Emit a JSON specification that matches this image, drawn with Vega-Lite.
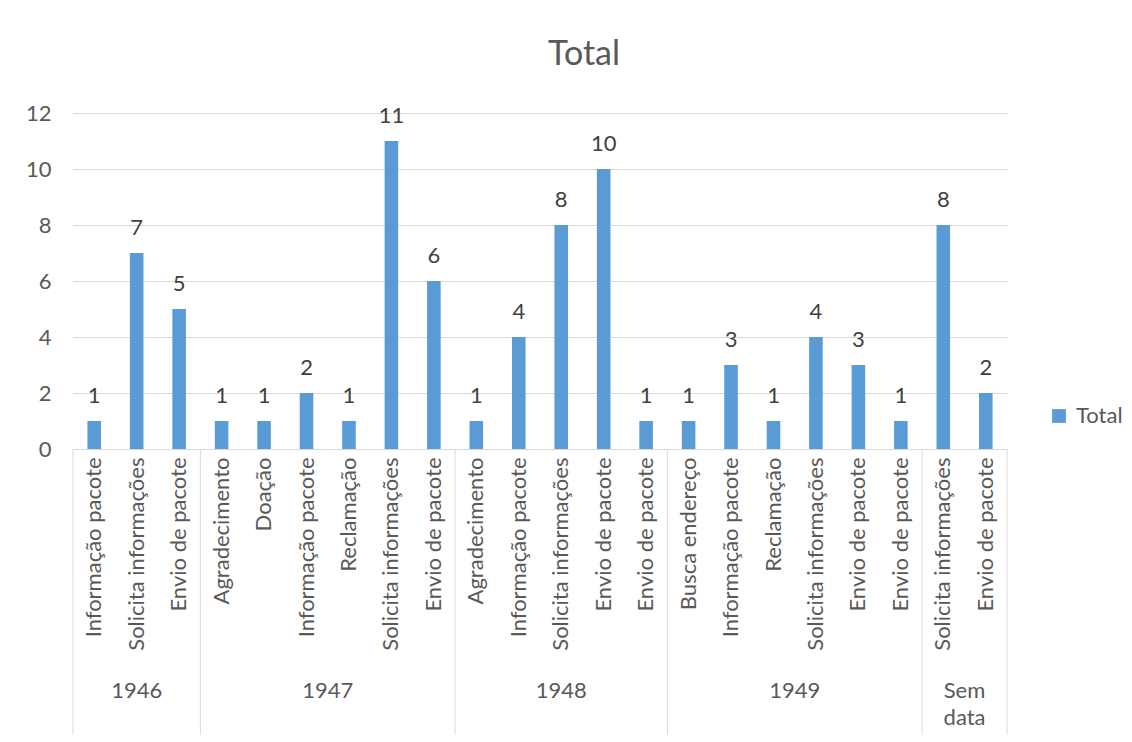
{
  "$schema": "https://vega.github.io/schema/vega-lite/v6.json",
  "autosize": {"type": "none"},
  "padding": {"left": 73, "top": 113, "right": 125, "bottom": 293},
  "width": 934,
  "height": 336,
  "background": "white",
  "config": {
    "view": {"stroke": null},
    "font": "Lato",
    "text": {"font": "Lato"}
  },
  "title": {
    "text": "Total",
    "fontSize": 34,
    "fontWeight": "normal",
    "color": "#595959",
    "font": "Lato",
    "anchor": "middle",
    "frame": "group",
    "dx": 44,
    "offset": 30
  },
  "datasets": {
    "rows": [
      {"k": "01 Informação pacote", "year": "1946", "n": 1},
      {"k": "02 Solicita informações", "year": "1946", "n": 7},
      {"k": "03 Envio de pacote", "year": "1946", "n": 5},
      {"k": "04 Agradecimento", "year": "1947", "n": 1},
      {"k": "05 Doação", "year": "1947", "n": 1},
      {"k": "06 Informação pacote", "year": "1947", "n": 2},
      {"k": "07 Reclamação", "year": "1947", "n": 1},
      {"k": "08 Solicita informações", "year": "1947", "n": 11},
      {"k": "09 Envio de pacote", "year": "1947", "n": 6},
      {"k": "10 Agradecimento", "year": "1948", "n": 1},
      {"k": "11 Informação pacote", "year": "1948", "n": 4},
      {"k": "12 Solicita informações", "year": "1948", "n": 8},
      {"k": "13 Envio de pacote", "year": "1948", "n": 10},
      {"k": "14 Envio de pacote", "year": "1948", "n": 1},
      {"k": "15 Busca endereço", "year": "1949", "n": 1},
      {"k": "16 Informação pacote", "year": "1949", "n": 3},
      {"k": "17 Reclamação", "year": "1949", "n": 1},
      {"k": "18 Solicita informações", "year": "1949", "n": 4},
      {"k": "19 Envio de pacote", "year": "1949", "n": 3},
      {"k": "20 Envio de pacote", "year": "1949", "n": 1},
      {"k": "21 Solicita informações", "year": "Sem data", "n": 8},
      {"k": "22 Envio de pacote", "year": "Sem data", "n": 2}
    ],
    "groupsCenter": [
      {"k": "02 Solicita informações", "label": "1946"},
      {"k": "12 Solicita informações", "label": "1948"}
    ],
    "groupsEdge": [
      {"k": "07 Reclamação", "label": "1947"},
      {"k": "18 Solicita informações", "label": "1949"},
      {"k": "22 Envio de pacote", "label": "Sem\ndata"}
    ],
    "boundsStart": [
      {"k": "01 Informação pacote"},
      {"k": "04 Agradecimento"},
      {"k": "10 Agradecimento"},
      {"k": "15 Busca endereço"},
      {"k": "21 Solicita informações"}
    ],
    "boundsEnd": [
      {"k": "22 Envio de pacote"}
    ]
  },
  "layer": [
    {
      "data": {"name": "rows"},
      "mark": {"type": "bar", "width": {"band": 0.32}},
      "encoding": {
        "x": {
          "field": "k",
          "type": "nominal",
          "scale": {"paddingInner": 0, "paddingOuter": 0},
          "axis": {
            "title": null,
            "labelExpr": "substring(datum.value, 3)",
            "labelAngle": 270,
            "labelAlign": "right",
            "labelBaseline": "middle",
            "labelFontSize": 22,
            "labelFont": "Lato",
            "labelColor": "#595959",
            "labelPadding": 8,
            "labelLimit": 400,
            "ticks": false,
            "domainColor": "#D9D9D9",
            "domainWidth": 1,
            "grid": false
          }
        },
        "y": {
          "field": "n",
          "type": "quantitative",
          "scale": {"domain": [0, 12], "nice": false},
          "axis": {
            "title": null,
            "values": [0, 2, 4, 6, 8, 10, 12],
            "labelFontSize": 22,
            "labelFont": "Lato",
            "labelColor": "#595959",
            "labelPadding": 22,
            "ticks": false,
            "domain": false,
            "gridColor": "#D9D9D9",
            "gridWidth": 1
          }
        },
        "color": {
          "datum": "Total",
          "type": "nominal",
          "scale": {"range": ["#5B9BD5"]},
          "legend": {
            "title": null,
            "orient": "none",
            "legendX": 975,
            "legendY": 292,
            "padding": 0,
            "symbolType": "square",
            "symbolSize": 190,
            "symbolStrokeWidth": 0,
            "labelFontSize": 22,
            "labelFont": "Lato",
            "labelColor": "#595959",
            "labelOffset": 6
          }
        }
      }
    },
    {
      "data": {"name": "rows"},
      "mark": {"type": "text", "baseline": "middle", "dy": -25, "fontSize": 22, "font": "Lato", "color": "#404040"},
      "encoding": {
        "x": {"field": "k", "type": "nominal"},
        "y": {"field": "n", "type": "quantitative"},
        "text": {"field": "n", "type": "quantitative"}
      }
    },
    {
      "data": {"name": "boundsStart"},
      "mark": {"type": "rule", "color": "#D9D9D9", "strokeWidth": 1},
      "encoding": {
        "x": {"field": "k", "type": "nominal", "bandPosition": 0},
        "y": {"datum": 0},
        "y2": {"datum": -10.2}
      }
    },
    {
      "data": {"name": "boundsEnd"},
      "mark": {"type": "rule", "color": "#D9D9D9", "strokeWidth": 1},
      "encoding": {
        "x": {"field": "k", "type": "nominal", "bandPosition": 1},
        "y": {"datum": 0},
        "y2": {"datum": -10.2}
      }
    },
    {
      "data": {"name": "groupsCenter"},
      "mark": {"type": "text", "baseline": "top", "align": "center", "fontSize": 22, "font": "Lato", "color": "#595959", "lineBreak": "\n", "lineHeight": 27},
      "encoding": {
        "x": {"field": "k", "type": "nominal", "bandPosition": 0.5},
        "y": {"datum": -8.3},
        "text": {"field": "label"}
      }
    },
    {
      "data": {"name": "groupsEdge"},
      "mark": {"type": "text", "baseline": "top", "align": "center", "fontSize": 22, "font": "Lato", "color": "#595959", "lineBreak": "\n", "lineHeight": 27},
      "encoding": {
        "x": {"field": "k", "type": "nominal", "bandPosition": 0},
        "y": {"datum": -8.3},
        "text": {"field": "label"}
      }
    }
  ]
}
